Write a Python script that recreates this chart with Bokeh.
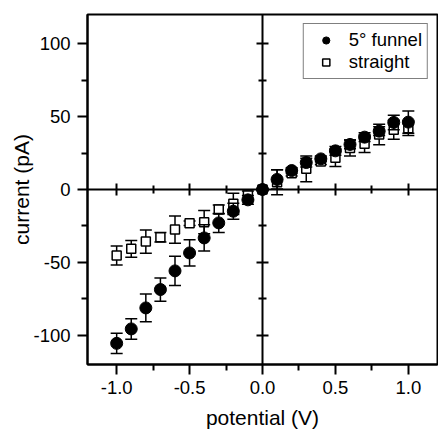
from bokeh.plotting import figure
from bokeh.models import (ColumnDataSource, LinearAxis, FixedTicker, Legend,
                          LegendItem, Range1d)
from bokeh.embed import file_html
from bokeh.resources import INLINE

# ---- data ----
potential = [-1.0, -0.9, -0.8, -0.7, -0.6, -0.5, -0.4, -0.3, -0.2, -0.1, 0.0,
             0.1, 0.2, 0.3, 0.4, 0.5, 0.6, 0.7, 0.8, 0.9, 1.0]
funnel = [-105.5, -95.6, -81.2, -68.6, -55.8, -43.5, -33.2, -22.9, -14.9, -7.1, 0.0,
          6.9, 13.0, 18.5, 21.0, 26.5, 30.9, 35.9, 40.0, 46.0, 46.2]
funnel_err = [7.0, 7.0, 9.5, 8.0, 10.0, 9.0, 9.0, 6.5, 5.5, 3.0, 0.0,
              6.6, 2.0, 3.0, 2.0, 3.0, 3.0, 3.0, 3.0, 5.0, 7.7]
straight = [-45.3, -40.7, -35.7, -32.7, -27.5, -23.1, -22.4, -13.7, -9.8, -4.1, 0.0,
            5.0, 11.2, 14.2, 19.2, 21.7, 28.4, 31.3, 37.7, 41.0, 42.0]
straight_err = [6.5, 5.7, 8.0, 3.3, 9.3, 1.5, 8.0, 3.0, 7.3, 3.0, 0.0,
                8.6, 2.0, 8.8, 2.0, 6.0, 5.5, 6.0, 7.0, 6.5, 5.0]

x_major = [-1.0, -0.5, 0.0, 0.5, 1.0]
x_minor = [-0.75, -0.25, 0.25, 0.75]
x_tick_labels = ["-1.0", "-0.5", "0.0", "0.5", "1.0"]
y_major = [-100, -50, 0, 50, 100]
y_minor = [-75, -25, 25, 75]
y_tick_labels = ["-100", "-50", "0", "50", "100"]

labels = ["5\u00b0 funnel", "straight"]
x_title = "potential (V)"
y_title = "current (pA)"

FONT = "Liberation Sans"

src = ColumnDataSource(dict(
    x=potential,
    f=funnel,
    fu=[v + e for v, e in zip(funnel, funnel_err)],
    fl=[v - e for v, e in zip(funnel, funnel_err)],
    s=straight,
    su=[v + e for v, e in zip(straight, straight_err)],
    sl=[v - e for v, e in zip(straight, straight_err)],
))

p = figure(frame_width=350, frame_height=350,
           x_range=Range1d(-1.2, 1.2), y_range=Range1d(-120, 120),
           output_backend="svg", toolbar_location=None,
           min_border_left=87, min_border_right=1, min_border_top=14, min_border_bottom=70)
p.grid.visible = False
p.outline_line_color = "black"
p.outline_line_width = 2
p.background_fill_color = "white"
p.border_fill_color = "white"

# main axes
for ax in (p.xaxis[0], p.yaxis[0]):
    ax.axis_line_width = 2
    ax.axis_line_color = "black"
    ax.major_tick_line_width = 2
    ax.minor_tick_line_width = 2
    ax.major_tick_line_color = "black"
    ax.minor_tick_line_color = "black"
    ax.major_tick_out = 10
    ax.major_tick_in = 0
    ax.minor_tick_out = 6
    ax.minor_tick_in = 0
    ax.major_label_text_font = FONT
    ax.major_label_text_font_size = "18.5px"
    ax.major_label_text_color = "black"
    ax.axis_label_text_font = FONT
    ax.axis_label_text_font_size = "21px"
    ax.axis_label_text_font_style = "normal"
    ax.axis_label_text_color = "black"

p.xaxis.ticker = FixedTicker(ticks=x_major, minor_ticks=x_minor)
p.xaxis.major_label_overrides = {v: t for v, t in zip(x_major, x_tick_labels)}
p.yaxis.ticker = FixedTicker(ticks=y_major, minor_ticks=y_minor)
p.yaxis.major_label_overrides = {v: t for v, t in zip(y_major, y_tick_labels)}
p.xaxis.axis_label = x_title
p.yaxis.axis_label = y_title
p.xaxis.major_label_standoff = 6
p.yaxis.major_label_standoff = 7
p.xaxis.axis_label_standoff = 9
p.yaxis.axis_label_standoff = -3

# axes crossing at zero
cx = LinearAxis(fixed_location=0, ticker=FixedTicker(ticks=x_major, minor_ticks=x_minor),
                major_label_text_color=None, axis_line_width=2,
                major_tick_in=6, major_tick_out=6, minor_tick_in=4, minor_tick_out=4,
                major_tick_line_width=2, minor_tick_line_width=2)
cy = LinearAxis(fixed_location=0, ticker=FixedTicker(ticks=y_major, minor_ticks=y_minor),
                major_label_text_color=None, axis_line_width=2,
                major_tick_in=6, major_tick_out=6, minor_tick_in=4, minor_tick_out=4,
                major_tick_line_width=2, minor_tick_line_width=2)
p.add_layout(cx, "below")
p.add_layout(cy, "left")

# straight: error bars then squares
p.segment(x0="x", y0="sl", x1="x", y1="su", source=src, line_color="black", line_width=1.5)
p.scatter(x="x", y="su", source=src, marker="dash", size=12, line_color="black", line_width=1.5)
p.scatter(x="x", y="sl", source=src, marker="dash", size=12, line_color="black", line_width=1.5)
rs = p.scatter(x="x", y="s", source=src, marker="square", size=9,
               fill_color="white", line_color="black", line_width=1.5)

# funnel: error bars then circles
p.segment(x0="x", y0="fl", x1="x", y1="fu", source=src, line_color="black", line_width=1.5)
p.scatter(x="x", y="fu", source=src, marker="dash", size=12, line_color="black", line_width=1.5)
p.scatter(x="x", y="fl", source=src, marker="dash", size=12, line_color="black", line_width=1.5)
rf = p.scatter(x="x", y="f", source=src, marker="circle", size=12,
               fill_color="black", line_color="black")

legend = Legend(items=[LegendItem(label=labels[0], renderers=[rf]),
                       LegendItem(label=labels[1], renderers=[rs])],
                location="top_right", margin=9, padding=5, spacing=0,
                glyph_width=34, glyph_height=18, label_height=18, label_standoff=6,
                label_text_font=FONT, label_text_font_size="18.5px", label_text_color="black",
                border_line_color="black", border_line_width=1.2,
                background_fill_color="white", background_fill_alpha=1)
p.add_layout(legend)

open("out.html", "w").write(file_html(p, INLINE))
